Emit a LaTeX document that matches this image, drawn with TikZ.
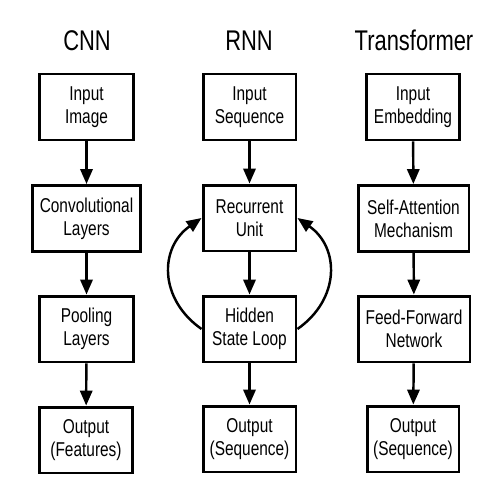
\documentclass[tikz,border=0pt]{standalone}
\usepackage{fontspec}
\setmainfont{Liberation Sans}[FakeStretch=0.77]
\usetikzlibrary{arrows.meta}

\begin{document}
\begin{tikzpicture}[x=0.02cm,y=0.02cm,>={Triangle[length=8.5pt,width=7pt]},
    box/.style={draw,line width=1.7pt,inner sep=0pt,minimum height=1.32cm,align=center,
      font=\fontsize{11.4}{13.1}\selectfont},
    head/.style={anchor=base,font=\fontsize{16.2}{19}\selectfont},
    flow/.style={->,line width=1.4pt}]
  \useasboundingbox (0,0) rectangle (500,-500);
  % column titles
  \node[head] (tcnn) at (87,-51) {CNN};
  \node[head] (trnn) at (249,-51) {RNN};
  \node[head] (ttrf) at (414,-51) {Transformer};
  % CNN
  \node[box,minimum width=1.90cm] (cin)  at (86.5,-107) {Input\\Image};
  \node[box,minimum width=2.18cm] (conv) at (86.5,-218.5) {Convolutional\\Layers};
  \node[box,minimum width=1.90cm] (pool) at (86.5,-329) {Pooling\\Layers};
  \node[box,minimum width=1.88cm] (cout) at (86,-440) {Output\\(Features)};
  % RNN
  \node[box,minimum width=1.86cm] (rin)  at (249.5,-107) {Input\\Sequence};
  \node[box,minimum width=1.86cm] (rec)  at (249.5,-218) {Recurrent\\Unit};
  \node[box,minimum width=1.86cm] (hid)  at (249.5,-329) {Hidden\\State Loop};
  \node[box,minimum width=1.86cm] (rout) at (249.5,-439) {Output\\(Sequence)};
  % Transformer
  \node[box,minimum width=1.86cm] (tin)  at (413,-107) {Input\\Embedding};
  \node[box,minimum width=2.22cm] (att)  at (413.5,-218.5) {Self-Attention\\Mechanism};
  \node[box,minimum width=2.24cm] (ff)   at (414,-329) {Feed-Forward\\Network};
  \node[box,minimum width=1.84cm] (tout) at (413,-439) {Output\\(Sequence)};
  \foreach \a/\b in {cin/conv,conv/pool,pool/cout,rin/rec,rec/hid,hid/rout,tin/att,att/ff,ff/tout}
    {\draw[flow] (\a) -- (\b);}
  % recurrence
  \draw[flow] (hid.west) to[out=145,in=215,looseness=1.2] (rec.west);
  \draw[flow] (hid.east) to[out=35,in=-35,looseness=1.2] (rec.east);
\end{tikzpicture}
\end{document}
